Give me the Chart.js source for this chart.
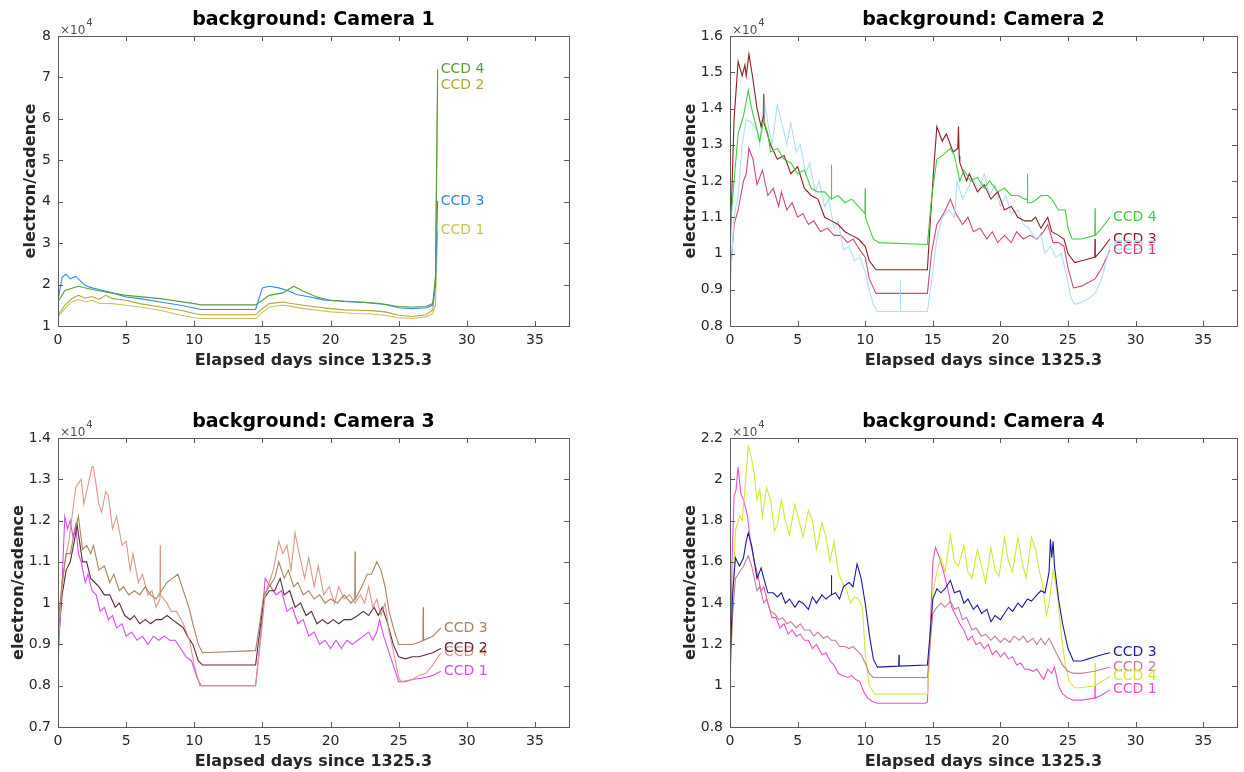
<!DOCTYPE html>
<html>
<head>
<meta charset="utf-8">
<script src="https://cdn.jsdelivr.net/npm/chart.js@4.4.1/dist/chart.umd.min.js"></script>
<style>
  body { margin: 0; background: #fff; }
  #wrap { position: relative; width: 1244px; height: 772px; }
  canvas { position: absolute; left: 0; top: 0; }
</style>
</head>
<body>
<div id="wrap">
  <canvas id="cam1" width="1244" height="772"></canvas>
  <canvas id="cam2" width="1244" height="772"></canvas>
  <canvas id="cam3" width="1244" height="772"></canvas>
  <canvas id="cam4" width="1244" height="772"></canvas>
</div>
<script>
// values are electron/cadence in units of 1e4 as [day, value]
const xTicks = [0, 5, 10, 15, 20, 25, 30, 35];

const cam1Ccd1 = [[0,1.22],[0.5,1.42],[1.0,1.58],[1.5,1.64],[2.0,1.58],[2.5,1.62],[3.0,1.55],[4.0,1.54],[5.0,1.5],[6.0,1.46],[7.5,1.38],[9.0,1.26],[10.0,1.2],[10.5,1.18],[14.5,1.18],[15.0,1.33],[15.5,1.46],[16.5,1.5],[17.0,1.48],[18.0,1.42],[19.0,1.38],[20.0,1.34],[21.0,1.32],[22.0,1.3],[23.0,1.29],[24.0,1.26],[25.0,1.2],[26.0,1.18],[27.0,1.22],[27.5,1.3],[27.7,1.5],[27.86,3.3]];
const cam1Ccd2 = [[0,1.26],[0.5,1.5],[1.0,1.66],[1.5,1.74],[2.0,1.67],[2.5,1.71],[3.0,1.64],[3.5,1.74],[4.0,1.66],[5.0,1.62],[6.0,1.54],[7.5,1.46],[9.0,1.38],[10.0,1.3],[10.5,1.27],[14.5,1.27],[15.0,1.42],[15.5,1.54],[16.5,1.58],[17.0,1.55],[18.0,1.5],[19.0,1.46],[20.0,1.42],[21.0,1.39],[22.0,1.38],[23.0,1.37],[24.0,1.34],[25.0,1.26],[26.0,1.23],[27.0,1.27],[27.5,1.38],[27.7,2.0],[27.86,6.82]];
const cam1Ccd3 = [[0,1.62],[0.3,2.18],[0.6,2.25],[0.9,2.14],[1.3,2.2],[1.6,2.1],[2.0,1.98],[2.5,1.92],[3.0,1.88],[4.0,1.8],[5.0,1.7],[6.0,1.66],[7.5,1.58],[9.0,1.5],[10.5,1.4],[14.5,1.4],[15.0,1.92],[15.5,1.96],[16.2,1.92],[17.0,1.84],[17.5,1.76],[18.5,1.7],[19.5,1.63],[21.0,1.59],[22.5,1.57],[24.0,1.52],[25.0,1.44],[26.0,1.42],[27.0,1.44],[27.5,1.5],[27.7,2.0],[27.86,4.02]];
const cam1Ccd4 = [[0,1.58],[0.5,1.86],[1.5,1.96],[2.5,1.88],[3.5,1.82],[5.0,1.74],[7.5,1.66],[10.0,1.54],[10.5,1.51],[14.5,1.51],[15.0,1.62],[15.5,1.74],[16.5,1.8],[17.3,1.96],[18.0,1.84],[19.0,1.7],[20.0,1.62],[22.0,1.58],[23.5,1.55],[25.0,1.47],[26.0,1.46],[27.0,1.47],[27.5,1.54],[27.7,2.2],[27.86,7.2]];

const cam2Ccd1 = [[0,0.93],[0.3,1.08],[0.6,1.12],[1.0,1.2],[1.2,1.22],[1.4,1.29],[1.7,1.26],[2.0,1.19],[2.4,1.23],[2.8,1.16],[3.2,1.18],[3.6,1.13],[3.8,1.17],[4.2,1.12],[4.6,1.14],[5.0,1.1],[5.4,1.11],[5.8,1.08],[6.2,1.09],[6.7,1.06],[7.2,1.07],[7.7,1.05],[8.2,1.05],[8.7,1.03],[9.1,1.04],[9.6,1.01],[10.0,0.99],[10.3,0.93],[10.8,0.89],[14.6,0.89],[14.9,1.0],[15.3,1.08],[15.8,1.11],[16.3,1.15],[16.7,1.11],[17.2,1.08],[17.6,1.1],[18.0,1.06],[18.5,1.07],[19.0,1.04],[19.4,1.06],[19.8,1.03],[20.3,1.05],[20.8,1.03],[21.2,1.06],[21.7,1.04],[22.2,1.05],[22.7,1.04],[23.2,1.06],[23.5,1.08],[23.9,1.03],[24.3,1.03],[24.7,1.02],[25.0,0.96],[25.4,0.905],[26.0,0.91],[26.5,0.92],[27.0,0.93],[27.5,0.96],[28.1,1.01]];
const cam2Ccd2 = [[0,0.9],[0.3,1.1],[0.6,1.16],[0.9,1.3],[1.2,1.37],[1.6,1.36],[2.0,1.34],[2.2,1.3],[2.5,1.43],[2.8,1.36],[3.1,1.3],[3.5,1.41],[3.9,1.35],[4.2,1.3],[4.5,1.36],[4.9,1.28],[5.2,1.3],[5.6,1.22],[5.9,1.25],[6.3,1.17],[6.6,1.2],[7.0,1.13],[7.3,1.15],[7.7,1.07],[8.0,1.09],[8.4,1.01],[8.8,1.02],[9.2,0.98],[9.6,0.99],[10.0,0.95],[10.3,0.9],[10.6,0.86],[10.9,0.84],[12.58,0.84],[12.6,0.925],[12.62,0.84],[14.6,0.84],[14.9,0.92],[15.3,1.04],[15.7,1.1],[16.2,1.12],[16.6,1.1],[16.8,1.2],[17.2,1.15],[17.6,1.18],[18.0,1.21],[18.4,1.17],[18.8,1.22],[19.2,1.16],[19.6,1.19],[20.0,1.13],[20.4,1.16],[20.8,1.11],[21.3,1.12],[21.7,1.08],[22.1,1.07],[22.6,1.04],[23.0,1.05],[23.3,1.0],[23.7,1.02],[24.1,0.99],[24.5,1.0],[24.9,0.94],[25.2,0.88],[25.5,0.86],[26.0,0.865],[26.5,0.875],[27.0,0.89],[27.5,0.93],[28.1,1.02]];
const cam2Ccd3 = [[0,1.0],[0.3,1.37],[0.6,1.53],[0.9,1.49],[1.1,1.52],[1.2,1.49],[1.4,1.55],[1.7,1.48],[2.0,1.4],[2.3,1.35],[2.48,1.38],[2.5,1.44],[2.52,1.36],[3.0,1.3],[3.5,1.26],[4.0,1.27],[4.5,1.22],[5.0,1.24],[5.5,1.18],[6.0,1.16],[6.5,1.15],[7.0,1.1],[7.5,1.09],[8.0,1.08],[8.5,1.06],[9.0,1.05],[9.5,1.04],[10.0,1.02],[10.3,0.98],[10.8,0.955],[14.6,0.955],[14.8,1.08],[15.1,1.25],[15.3,1.35],[15.7,1.31],[16.0,1.33],[16.5,1.28],[16.85,1.29],[16.9,1.35],[16.95,1.27],[17.0,1.25],[17.5,1.2],[17.7,1.22],[18.3,1.17],[18.8,1.19],[19.3,1.15],[19.8,1.17],[20.3,1.12],[20.8,1.13],[21.3,1.1],[21.8,1.09],[22.3,1.09],[22.6,1.1],[23.0,1.07],[23.5,1.1],[23.8,1.06],[24.3,1.05],[24.7,1.04],[25.0,1.0],[25.5,0.975],[26.0,0.98],[26.5,0.985],[26.98,0.99],[27.0,1.04],[27.02,0.99],[27.5,1.01],[28.1,1.04]];
const cam2Ccd4 = [[0,1.06],[0.3,1.2],[0.6,1.33],[1.0,1.38],[1.35,1.45],[1.6,1.4],[2.0,1.34],[2.2,1.31],[2.5,1.37],[2.8,1.33],[3.0,1.28],[3.5,1.29],[4.0,1.26],[4.5,1.25],[5.0,1.22],[5.5,1.23],[6.0,1.18],[6.5,1.17],[7.0,1.17],[7.48,1.15],[7.5,1.245],[7.52,1.15],[8.0,1.16],[8.5,1.14],[9.0,1.15],[9.5,1.13],[9.98,1.11],[10.0,1.18],[10.02,1.1],[10.3,1.07],[10.6,1.04],[11.0,1.03],[14.6,1.025],[14.9,1.15],[15.3,1.26],[15.7,1.27],[16.3,1.29],[16.6,1.27],[17.0,1.2],[17.3,1.23],[17.8,1.2],[18.3,1.21],[18.8,1.18],[19.2,1.2],[19.8,1.17],[20.3,1.18],[20.8,1.16],[21.3,1.16],[21.8,1.15],[21.98,1.15],[22.0,1.22],[22.02,1.14],[22.3,1.14],[22.7,1.15],[23.0,1.16],[23.5,1.16],[23.8,1.15],[24.3,1.12],[24.8,1.12],[25.0,1.07],[25.3,1.04],[26.0,1.04],[26.5,1.045],[26.98,1.05],[27.0,1.125],[27.02,1.05],[27.5,1.07],[28.1,1.1]];

const cam3Ccd1 = [[0,0.86],[0.3,1.05],[0.5,1.21],[0.7,1.18],[0.9,1.2],[1.1,1.16],[1.3,1.19],[1.5,1.12],[1.7,1.1],[2.0,1.05],[2.2,1.07],[2.5,1.03],[2.8,1.02],[3.1,0.98],[3.4,0.99],[3.7,0.96],[4.0,0.97],[4.3,0.94],[4.7,0.95],[5.0,0.92],[5.4,0.93],[5.8,0.91],[6.2,0.92],[6.6,0.9],[7.0,0.92],[7.4,0.91],[7.8,0.92],[8.2,0.91],[8.6,0.91],[9.0,0.89],[9.4,0.87],[9.8,0.86],[10.2,0.82],[10.5,0.8],[14.5,0.8],[14.9,0.93],[15.2,1.06],[15.6,1.04],[16.0,1.02],[16.4,1.03],[16.8,0.98],[17.2,0.99],[17.6,0.95],[18.0,0.96],[18.4,0.92],[18.8,0.93],[19.2,0.9],[19.6,0.91],[20.0,0.89],[20.4,0.91],[20.8,0.89],[21.2,0.91],[21.6,0.9],[22.0,0.91],[22.4,0.92],[22.8,0.93],[23.1,0.91],[23.4,0.93],[23.6,0.96],[23.9,0.92],[24.3,0.88],[24.7,0.84],[25.0,0.81],[25.5,0.81],[26.0,0.815],[27.0,0.82],[27.5,0.825],[28.1,0.835]];
const cam3Ccd2 = [[0,0.9],[0.3,1.02],[0.6,1.08],[0.9,1.1],[1.2,1.15],[1.4,1.19],[1.8,1.1],[2.1,1.1],[2.4,1.06],[2.7,1.05],[3.0,1.04],[3.4,1.02],[3.8,1.02],[4.2,0.99],[4.5,1.0],[4.9,0.97],[5.3,0.96],[5.6,0.97],[6.0,0.95],[6.4,0.96],[6.8,0.95],[7.2,0.96],[7.6,0.96],[8.0,0.97],[8.4,0.96],[8.8,0.95],[9.2,0.94],[9.5,0.92],[9.9,0.9],[10.3,0.86],[10.6,0.85],[14.5,0.85],[14.8,0.93],[15.1,1.01],[15.5,1.03],[15.9,1.03],[16.3,1.06],[16.6,1.02],[17.0,1.03],[17.4,0.99],[17.8,1.0],[18.2,0.97],[18.6,0.98],[19.0,0.95],[19.4,0.96],[19.8,0.95],[20.2,0.96],[20.6,0.95],[21.0,0.96],[21.5,0.96],[22.0,0.97],[22.4,0.98],[22.8,0.97],[23.2,0.99],[23.5,0.97],[23.8,0.99],[24.2,0.95],[24.6,0.9],[25.0,0.87],[25.5,0.865],[26.0,0.87],[26.5,0.87],[27.0,0.875],[27.5,0.88],[28.1,0.89]];
const cam3Ccd3 = [[0,0.95],[0.3,1.05],[0.6,1.12],[0.9,1.12],[1.2,1.17],[1.5,1.21],[1.8,1.13],[2.1,1.14],[2.4,1.12],[2.6,1.14],[3.0,1.08],[3.4,1.09],[3.8,1.05],[4.1,1.07],[4.5,1.03],[4.8,1.04],[5.2,1.02],[5.6,1.03],[6.0,1.02],[6.4,1.04],[6.8,1.02],[7.2,1.01],[7.6,1.03],[8.0,1.05],[8.4,1.06],[8.8,1.07],[9.2,1.03],[9.6,0.99],[9.9,0.95],[10.3,0.9],[10.6,0.88],[14.5,0.885],[14.8,0.95],[15.1,1.02],[15.5,1.04],[15.9,1.06],[16.2,1.1],[16.6,1.06],[16.9,1.08],[17.3,1.04],[17.6,1.05],[18.0,1.02],[18.4,1.03],[18.8,1.01],[19.2,1.02],[19.6,1.0],[20.0,1.01],[20.5,1.0],[21.0,1.02],[21.5,1.0],[21.78,1.01],[21.8,1.125],[21.82,1.01],[22.3,1.04],[22.7,1.07],[23.0,1.07],[23.4,1.1],[23.7,1.08],[24.0,1.04],[24.3,0.98],[24.7,0.93],[25.0,0.9],[26.0,0.9],[26.5,0.905],[26.78,0.91],[26.8,0.99],[26.82,0.91],[27.5,0.92],[28.1,0.94]];
const cam3Ccd4 = [[0,0.87],[0.2,1.0],[0.5,1.1],[0.8,1.15],[1.3,1.28],[1.7,1.3],[1.9,1.24],[2.1,1.27],[2.5,1.33],[2.6,1.33],[3.0,1.24],[3.2,1.22],[3.5,1.27],[3.7,1.26],[4.0,1.18],[4.3,1.21],[4.7,1.14],[5.0,1.15],[5.3,1.08],[5.5,1.12],[5.9,1.05],[6.2,1.07],[6.6,1.02],[6.9,1.03],[7.2,0.99],[7.48,1.01],[7.5,1.14],[7.52,1.02],[8.0,1.0],[8.3,0.98],[8.7,0.98],[9.2,0.95],[9.65,0.91],[10.0,0.85],[10.4,0.8],[14.5,0.8],[14.9,0.92],[15.2,1.02],[15.5,1.05],[15.8,1.08],[16.2,1.15],[16.5,1.12],[16.8,1.14],[17.1,1.08],[17.4,1.17],[17.7,1.12],[18.1,1.06],[18.4,1.11],[18.8,1.04],[19.1,1.09],[19.5,1.02],[19.9,1.04],[20.3,1.0],[20.6,1.04],[21.0,1.01],[21.4,1.02],[21.8,1.0],[22.2,1.02],[22.5,1.0],[22.8,1.04],[23.1,0.99],[23.4,1.01],[23.7,0.97],[24.0,1.0],[24.3,0.93],[24.7,0.87],[25.0,0.82],[25.2,0.81],[26.0,0.815],[26.5,0.825],[27.0,0.83],[27.5,0.85],[28.1,0.88]];

const cam4Ccd1 = [[0,0.96],[0.15,1.6],[0.3,1.92],[0.45,1.95],[0.6,2.06],[0.8,1.93],[1.0,1.9],[1.3,1.82],[1.5,1.7],[1.8,1.6],[2.0,1.55],[2.3,1.46],[2.5,1.48],[2.8,1.4],[3.1,1.33],[3.4,1.33],[3.7,1.28],[4.0,1.3],[4.3,1.25],[4.6,1.27],[4.9,1.24],[5.2,1.25],[5.5,1.22],[5.8,1.22],[6.1,1.18],[6.4,1.2],[6.8,1.15],[7.1,1.16],[7.4,1.12],[7.7,1.1],[8.0,1.06],[8.3,1.05],[8.7,1.04],[9.0,1.05],[9.3,1.03],[9.6,1.02],[9.9,0.97],[10.2,0.94],[10.5,0.925],[10.9,0.915],[14.4,0.915],[14.6,0.92],[14.8,1.25],[15.0,1.6],[15.2,1.67],[15.5,1.62],[15.8,1.55],[16.1,1.47],[16.4,1.38],[16.7,1.34],[17.0,1.3],[17.3,1.27],[17.6,1.22],[17.9,1.24],[18.2,1.2],[18.5,1.21],[18.8,1.18],[19.1,1.2],[19.4,1.15],[19.7,1.17],[20.0,1.14],[20.3,1.16],[20.6,1.13],[20.9,1.14],[21.2,1.1],[21.5,1.11],[21.8,1.08],[22.1,1.08],[22.4,1.07],[22.7,1.08],[23.0,1.05],[23.2,1.03],[23.5,1.08],[23.8,1.06],[24.0,1.09],[24.3,1.0],[24.6,0.96],[25.0,0.94],[25.4,0.93],[26.0,0.93],[26.5,0.935],[26.98,0.94],[27.0,1.0],[27.02,0.94],[27.5,0.955],[28.1,0.98]];
const cam4Ccd2 = [[0,1.05],[0.2,1.35],[0.4,1.52],[0.7,1.55],[1.0,1.58],[1.35,1.63],[1.6,1.58],[1.8,1.52],[2.0,1.46],[2.2,1.48],[2.5,1.4],[2.7,1.42],[3.0,1.36],[3.3,1.35],[3.6,1.32],[3.9,1.33],[4.2,1.3],[4.5,1.31],[4.9,1.28],[5.2,1.3],[5.5,1.27],[5.9,1.27],[6.2,1.24],[6.5,1.26],[6.9,1.23],[7.2,1.24],[7.5,1.22],[7.8,1.22],[8.1,1.19],[8.5,1.19],[8.8,1.18],[9.1,1.19],[9.4,1.17],[9.7,1.15],[10.0,1.11],[10.3,1.06],[10.6,1.04],[14.6,1.04],[14.8,1.2],[15.0,1.35],[15.3,1.38],[15.6,1.4],[15.9,1.38],[16.3,1.41],[16.6,1.37],[16.9,1.38],[17.2,1.32],[17.5,1.33],[17.9,1.27],[18.2,1.28],[18.6,1.24],[18.9,1.25],[19.3,1.22],[19.6,1.24],[20.0,1.21],[20.3,1.23],[20.7,1.21],[21.0,1.24],[21.4,1.22],[21.7,1.24],[22.0,1.21],[22.4,1.23],[22.7,1.2],[23.0,1.23],[23.3,1.2],[23.6,1.23],[23.9,1.19],[24.2,1.15],[24.6,1.1],[25.0,1.07],[25.4,1.06],[26.0,1.06],[26.5,1.065],[27.0,1.07],[27.5,1.08],[28.1,1.09]];
const cam4Ccd3 = [[0,1.1],[0.2,1.45],[0.4,1.62],[0.7,1.58],[1.0,1.62],[1.2,1.7],[1.35,1.74],[1.6,1.68],[1.8,1.6],[2.0,1.52],[2.3,1.57],[2.5,1.52],[2.8,1.45],[3.2,1.45],[3.5,1.43],[3.8,1.45],[4.1,1.4],[4.4,1.42],[4.8,1.38],[5.1,1.41],[5.4,1.4],[5.8,1.37],[6.1,1.43],[6.4,1.4],[6.8,1.44],[7.1,1.42],[7.48,1.44],[7.5,1.535],[7.52,1.44],[7.8,1.45],[8.1,1.42],[8.4,1.48],[8.8,1.5],[9.1,1.48],[9.4,1.59],[9.7,1.52],[10.0,1.4],[10.3,1.25],[10.6,1.13],[10.9,1.09],[12.48,1.095],[12.5,1.15],[12.52,1.095],[14.6,1.1],[14.8,1.25],[15.0,1.42],[15.3,1.47],[15.6,1.45],[15.9,1.47],[16.3,1.51],[16.6,1.45],[17.0,1.46],[17.3,1.4],[17.6,1.42],[18.0,1.37],[18.3,1.39],[18.6,1.35],[19.0,1.37],[19.3,1.31],[19.6,1.34],[20.0,1.32],[20.3,1.35],[20.6,1.38],[20.9,1.36],[21.3,1.4],[21.6,1.38],[22.0,1.42],[22.3,1.41],[22.7,1.44],[23.0,1.46],[23.3,1.45],[23.6,1.55],[23.7,1.71],[23.8,1.62],[23.9,1.7],[24.0,1.58],[24.3,1.42],[24.6,1.3],[25.0,1.18],[25.4,1.12],[26.0,1.12],[26.5,1.13],[27.0,1.14],[27.5,1.15],[28.1,1.16]];
const cam4Ccd4 = [[0,1.0],[0.2,1.4],[0.4,1.75],[0.7,1.82],[0.9,1.8],[1.1,1.95],[1.35,2.16],[1.6,2.1],[1.8,2.02],[2.0,1.9],[2.2,1.95],[2.4,1.82],[2.7,1.96],[3.0,1.9],[3.3,1.75],[3.5,1.78],[3.8,1.9],[4.1,1.8],[4.4,1.73],[4.8,1.88],[5.1,1.8],[5.4,1.72],[5.8,1.85],[6.1,1.8],[6.4,1.66],[6.8,1.79],[7.1,1.72],[7.4,1.6],[7.7,1.7],[8.0,1.55],[8.3,1.5],[8.6,1.47],[8.9,1.4],[9.2,1.43],[9.5,1.42],[9.8,1.38],[10.0,1.15],[10.3,1.0],[10.7,0.96],[14.6,0.96],[14.8,1.2],[15.0,1.45],[15.3,1.55],[15.6,1.62],[15.9,1.55],[16.3,1.73],[16.6,1.6],[16.9,1.58],[17.3,1.68],[17.6,1.55],[17.9,1.52],[18.3,1.66],[18.6,1.58],[18.9,1.5],[19.3,1.67],[19.6,1.56],[19.9,1.53],[20.3,1.72],[20.6,1.6],[20.9,1.55],[21.3,1.72],[21.6,1.6],[21.9,1.52],[22.3,1.72],[22.6,1.66],[22.9,1.55],[23.1,1.5],[23.4,1.34],[23.6,1.4],[23.9,1.56],[24.2,1.45],[24.5,1.25],[24.8,1.1],[25.1,1.02],[25.5,0.99],[26.0,0.99],[26.5,0.995],[26.98,1.0],[27.0,1.11],[27.02,1.0],[27.5,1.02],[28.1,1.045]];

const panels = [
  { id: 'cam1', title: 'background: Camera 1', area: { l: 58, t: 36, r: 569, b: 326 },
    yMin: 1, yMax: 8, yStep: 1, yLabelOff: 27.5,
    series: [
      { label: 'CCD 4', data: cam1Ccd4, color: '#5a9e3a' },
      { label: 'CCD 3', data: cam1Ccd3, color: '#2f8ae8' },
      { label: 'CCD 2', data: cam1Ccd2, color: '#b4a438' },
      { label: 'CCD 1', data: cam1Ccd1, color: '#c6c258' }
    ] },
  { id: 'cam2', title: 'background: Camera 2', area: { l: 730, t: 36, r: 1237, b: 326 },
    yMin: 0.8, yMax: 1.6, yStep: 0.1, yLabelOff: 39.5,
    series: [
      { label: 'CCD 4', data: cam2Ccd4, color: '#3fcf3f' },
      { label: 'CCD 3', data: cam2Ccd3, color: '#8e1e26' },
      { label: 'CCD 2', data: cam2Ccd2, color: '#addff2' },
      { label: 'CCD 1', data: cam2Ccd1, color: '#cc4884' }
    ] },
  { id: 'cam3', title: 'background: Camera 3', area: { l: 58, t: 438, r: 569, b: 727 },
    yMin: 0.7, yMax: 1.4, yStep: 0.1, yLabelOff: 39.5,
    series: [
      { label: 'CCD 3', data: cam3Ccd3, color: '#a8845e' },
      { label: 'CCD 4', data: cam3Ccd4, color: '#d9998a' },
      { label: 'CCD 2', data: cam3Ccd2, color: '#5a2a3a' },
      { label: 'CCD 1', data: cam3Ccd1, color: '#d84cf2' }
    ] },
  { id: 'cam4', title: 'background: Camera 4', area: { l: 730, t: 438, r: 1237, b: 727 },
    yMin: 0.8, yMax: 2.2, yStep: 0.2, yLabelOff: 39.5,
    series: [
      { label: 'CCD 3', data: cam4Ccd3, color: '#1c1c96' },
      { label: 'CCD 2', data: cam4Ccd2, color: '#c67a9e' },
      { label: 'CCD 4', data: cam4Ccd4, color: '#d2e832' },
      { label: 'CCD 1', data: cam4Ccd1, color: '#f050c6' }
    ] }
];

const FONT = '"DejaVu Sans", sans-serif';
const AXIS = '#262626';
const YW = 50, XH = 30;

// box, inward ticks, titles, exponent and the CCD labels at the line ends
const decor = {
  id: 'decor',
  afterDraw(chart, args, opts) {
    const ctx = chart.ctx;
    const a = chart.chartArea;
    const xs = chart.scales.x, ys = chart.scales.y;
    ctx.save();
    ctx.strokeStyle = '#5a5a5a';
    ctx.lineWidth = 1;
    ctx.strokeRect(a.left + 0.5, a.top + 0.5, a.right - a.left, a.bottom - a.top);
    ctx.beginPath();
    xs.ticks.forEach(t => {
      const px = Math.round(xs.getPixelForValue(t.value)) + 0.5;
      ctx.moveTo(px, a.bottom); ctx.lineTo(px, a.bottom - 5);
      ctx.moveTo(px, a.top); ctx.lineTo(px, a.top + 5);
    });
    ys.ticks.forEach(t => {
      const py = Math.round(ys.getPixelForValue(t.value)) + 0.5;
      ctx.moveTo(a.left, py); ctx.lineTo(a.left + 5, py);
      ctx.moveTo(a.right, py); ctx.lineTo(a.right - 5, py);
    });
    ctx.stroke();

    const cx = (a.left + a.right) / 2, cy = (a.top + a.bottom) / 2;
    ctx.textAlign = 'center';
    ctx.textBaseline = 'middle';
    ctx.fillStyle = '#000';
    ctx.font = 'bold 19px ' + FONT;
    ctx.fillText(opts.title, cx, a.top - 15.5);

    ctx.fillStyle = AXIS;
    ctx.font = 'bold 16px ' + FONT;
    ctx.fillText('Elapsed days since 1325.3', cx, a.bottom + 34.5);
    ctx.save();
    ctx.translate(a.left - opts.yLabelOff, cy);
    ctx.rotate(-Math.PI / 2);
    ctx.fillText('electron/cadence', 0, 0);
    ctx.restore();

    ctx.textAlign = 'left';
    ctx.textBaseline = 'alphabetic';
    ctx.fillStyle = '#4d4d4d';
    ctx.font = '12px ' + FONT;
    ctx.fillText('\u00d710', a.left + 2, a.top - 2);
    const w = ctx.measureText('\u00d710').width;
    ctx.font = '10px ' + FONT;
    ctx.fillText('4', a.left + 2 + w + 1, a.top - 10);

    ctx.font = '14px ' + FONT;
    ctx.textBaseline = 'middle';
    chart.data.datasets.forEach((ds, i) => {
      const pts = chart.getDatasetMeta(i).data;
      const p = pts[pts.length - 1];
      ctx.fillStyle = ds.borderColor;
      ctx.fillText(ds.label, p.x + 3, p.y);
    });
    ctx.restore();
  }
};

panels.forEach(pn => {
  const canvas = document.getElementById(pn.id);
  new Chart(canvas, {
    type: 'line',
    data: {
      datasets: pn.series.map(s => ({
        label: s.label,
        data: s.data.map(d => ({ x: d[0], y: d[1] })),
        borderColor: s.color,
        borderWidth: 1.1,
        pointRadius: 0,
        tension: 0,
        fill: false
      }))
    },
    options: {
      responsive: false,
      animation: false,
      events: [],
      layout: {
        padding: { left: pn.area.l - YW, top: pn.area.t, right: 1244 - pn.area.r, bottom: 772 - pn.area.b - XH }
      },
      plugins: {
        legend: { display: false },
        tooltip: { enabled: false },
        decor: { title: pn.title, yLabelOff: pn.yLabelOff }
      },
      scales: {
        x: {
          type: 'linear', min: 0, max: 37.5,
          grid: { display: false, drawTicks: false }, border: { display: false },
          afterBuildTicks: sc => { sc.ticks = xTicks.map(v => ({ value: v })); },
          afterFit: sc => { sc.height = XH; },
          ticks: { padding: 6, color: AXIS, font: { family: FONT, size: 14 }, maxRotation: 0 }
        },
        y: {
          type: 'linear', min: pn.yMin, max: pn.yMax,
          grid: { display: false, drawTicks: false }, border: { display: false },
          afterFit: sc => { sc.width = YW; },
          ticks: { stepSize: pn.yStep, padding: 7, color: AXIS, font: { family: FONT, size: 14 },
            callback: v => String(parseFloat(v.toFixed(2))) }
        }
      }
    },
    plugins: [decor]
  });
});
</script>
</body>
</html>
